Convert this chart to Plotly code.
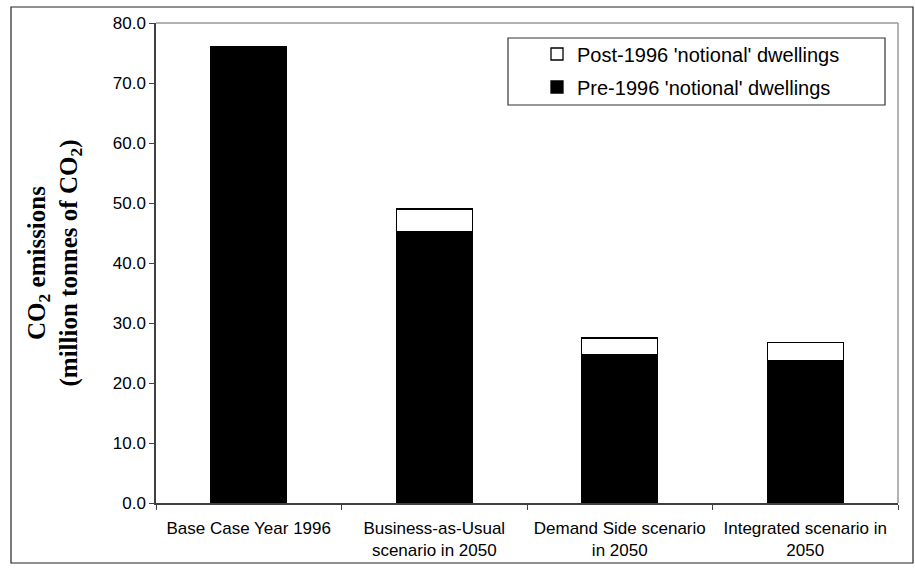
import plotly.graph_objects as go

# scenario categories (x axis)
categories = [
    "Base Case Year 1996",
    "Business-as-Usual<br>scenario in 2050",
    "Demand Side scenario<br>in 2050",
    "Integrated scenario in<br>2050",
]

# CO2 emissions, million tonnes
pre_1996 = [76.0, 45.3, 24.7, 23.8]
post_1996 = [0.0, 3.7, 2.8, 2.9]

y_ticks = [0, 10, 20, 30, 40, 50, 60, 70, 80]

sans = "Arial, Liberation Sans, sans-serif"
serif = "Times New Roman, Liberation Serif, serif"

fig = go.Figure()

fig.add_trace(go.Bar(
    x=categories,
    y=pre_1996,
    name="Pre-1996 'notional' dwellings",
    legendgroup="pre",
    legendrank=2,
    marker=dict(color="black", line=dict(color="black", width=1.3)),
))

fig.add_trace(go.Bar(
    x=categories,
    y=post_1996,
    name="Post-1996 'notional' dwellings",
    legendgroup="post",
    legendrank=1,
    marker=dict(color="white", line=dict(color="black", width=1.3)),
))

# pixel helpers for the plot area (156..898 x, 23..503 y)
def px(x):
    return (x - 156) / 742

def py(y):
    return (503 - y) / 480

shapes = [
    # outer chart border
    dict(type="rect", xref="paper", yref="paper",
         x0=px(11), x1=px(913), y0=py(563), y1=py(7),
         line=dict(color="#222222", width=1.2), layer="below"),
    # top / right of plot area
    dict(type="line", xref="paper", yref="paper",
         x0=0, x1=1, y0=1, y1=1, line=dict(color="#999999", width=1.5)),
    dict(type="line", xref="paper", yref="paper",
         x0=1, x1=1, y0=0, y1=1, line=dict(color="#999999", width=1.5)),
    # legend box
    dict(type="rect", xref="paper", yref="paper",
         x0=px(508), x1=px(885), y0=py(105), y1=py(38),
         line=dict(color="#333333", width=1.2), fillcolor="white", layer="below"),
]

fig.update_layout(
    width=915,
    height=568,
    barmode="stack",
    bargap=0.59,
    plot_bgcolor="white",
    paper_bgcolor="white",
    margin=dict(l=156, r=17, t=23, b=65, autoexpand=False),
    font=dict(family=sans, size=18, color="black"),
    shapes=shapes,
    showlegend=True,
    legend=dict(
        x=px(537), y=py(70.5), xanchor="left", yanchor="middle",
        bgcolor="rgba(0,0,0,0)", borderwidth=0,
        font=dict(family=sans, size=20, color="black"),
        traceorder="grouped",
        tracegroupgap=4,
    ),
)

fig.update_xaxes(
    showline=True, linecolor="#404040", linewidth=1.5,
    ticks="outside", tickson="boundaries", ticklen=5, tickcolor="#404040",
    showgrid=False, tickangle=0, automargin=False,
    ticklabelstandoff=9,
    tickfont=dict(family=sans, size=17, color="black"),
)

fig.update_yaxes(
    range=[0, 80],
    tickvals=y_ticks,
    tickformat=".1f",
    showline=True, linecolor="#404040", linewidth=1.5,
    ticks="outside", ticklen=5, tickcolor="#404040",
    showgrid=False, zeroline=False, automargin=False,
    tickfont=dict(family=sans, size=17, color="black"),
    title=dict(
        text="CO<sub>2</sub> emissions<br>(million tonnes of CO<sub>2</sub>)",
        font=dict(family=serif, size=25, color="black", weight="bold"),
        standoff=28,
    ),
)

# drop the default page margin so the figure sits at the window origin
fig.write_html(
    "out.html",
    config={"displayModeBar": False},
    post_script="document.body.style.margin='0px';",
)
